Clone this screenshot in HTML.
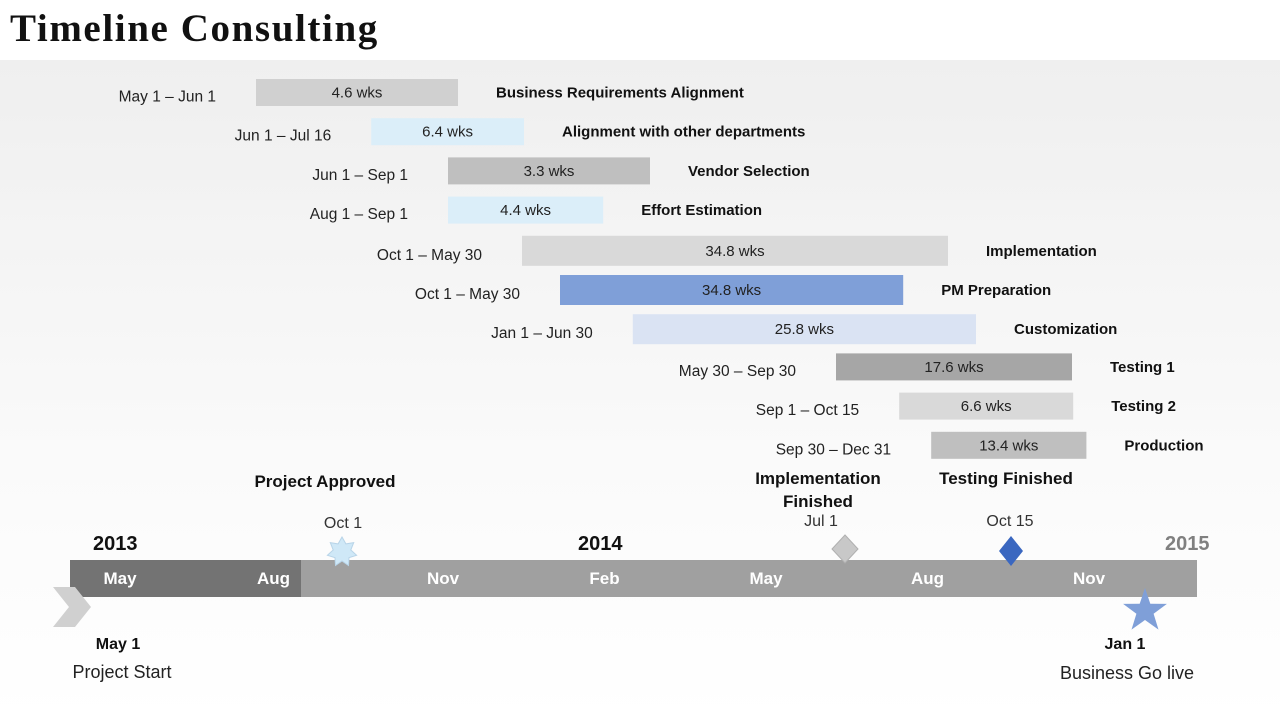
<!DOCTYPE html>
<html><head><meta charset="utf-8">
<style>
body{margin:0;width:1280px;height:720px;overflow:hidden;font-family:"Liberation Sans",sans-serif;background:#fff;position:relative}
#bg{position:absolute;left:0;top:60px;width:1280px;height:660px;background:linear-gradient(#efefef,#fafafa 60%,#fff)}
#title{position:absolute;left:10px;top:6px;font-family:"Liberation Serif",serif;font-weight:bold;font-size:39px;color:#111;letter-spacing:1.6px}
svg{position:absolute;left:0;top:0}
</style></head>
<body>
<div id="bg"></div>
<div id="title">Timeline Consulting</div>
<svg id="chart" width="1280" height="720"></svg>
<script>
const tasks=["Business Requirements Alignment","Alignment  with other departments","Vendor Selection","Effort Estimation","Implementation","PM Preparation","Customization","Testing 1","Testing 2","Production"];
const dateRanges=["May 1 – Jun 1","Jun 1 – Jul 16","Jun 1 – Sep 1","Aug 1 – Sep 1","Oct 1 – May 30","Oct 1 – May 30","Jan 1 – Jun 30","May 30 – Sep 30","Sep 1 – Oct 15","Sep 30 – Dec 31"];
const durLabels=["4.6 wks","6.4 wks","3.3 wks","4.4 wks","34.8 wks","34.8 wks","25.8 wks","17.6 wks","6.6 wks","13.4 wks"];
const starts=[0,14.4,24,24,33.25,38,47.1,72.5,80.4,84.4];
const lengths=[25.25,19.1,25.25,19.4,53.25,42.9,42.9,29.5,21.75,19.4];
const colors=["#d0d0d0","#dbeef9","#bfbfbf","#dbeef9","#d9d9d9","#7f9fd8","#dae3f3","#a6a6a6","#d9d9d9","#bfbfbf"];
const months=["May","Aug","Nov","Feb","May","Aug","Nov"];
const NS="http://www.w3.org/2000/svg";
const svg=document.getElementById('chart');
const xs=v=>256+v*8;
const ys=i=>79+i*39.2;
function mk(t,a,txt){const e=document.createElementNS(NS,t);for(const k in a)e.setAttribute(k,a[k]);if(txt!==undefined)e.textContent=txt;svg.appendChild(e);return e;}
tasks.forEach((t,i)=>{
  const x0=xs(starts[i]),x1=xs(starts[i]+lengths[i]),y=ys(i),h=(i>=4&&i<=6)?30:27;
  const r=mk('rect',{x:x0,y:y,width:x1-x0,height:h,fill:colors[i]});
  
  
  const d=mk('text',{x:(x0+x1)/2,y:y+h/2+5,'text-anchor':'middle','font-size':15,fill:'#222'},durLabels[i]);
  
  
  const dr=mk('text',{x:x0-40,y:y+h/2+9,'text-anchor':'end','font-size':15.5,fill:'#222'},dateRanges[i]);
  
  
  const tn=mk('text',{x:x1+38,y:y+h/2+5,'font-size':15,'font-weight':'bold',fill:'#111'},t);
  
  
});
let e=mk('rect',{x:70,y:560,width:1127,height:37,fill:'#a0a0a0'});


e=mk('rect',{x:70,y:560,width:231,height:37,fill:'#737373'});


const mx=m=>120+m*161.5;
months.forEach((m,i)=>{
  const t=mk('text',{x:mx(i)+(i==1?-8:0),y:584,'text-anchor':'middle','font-family':'"Liberation Sans Narrow",sans-serif','font-weight':'bold','font-size':17,fill:'#fff'},m);
  
  
});
function T(x,y,s,txt,opt,name){const t=mk('text',Object.assign({x:x,y:y,'font-size':s,fill:'#111'},opt||{}),txt);return t;}
T(93,550,20,"2013",{'font-weight':'bold'},'year-2013');
T(578,550,20,"2014",{'font-weight':'bold'},'year-2014');
T(1165,550,20,"2015",{'font-weight':'bold',fill:'#808080'},'year-2015');
T(325,487,17,"Project Approved",{'font-weight':'bold','text-anchor':'middle'},'milestone-title');
T(343,528,16,"Oct 1",{'text-anchor':'middle',fill:'#333'},'milestone-date');
T(818,484,17,"Implementation",{'font-weight':'bold','text-anchor':'middle'},'milestone-title');
T(818,507,17,"Finished",{'font-weight':'bold','text-anchor':'middle'},'milestone-title');
T(821,526,16,"Jul 1",{'text-anchor':'middle',fill:'#333'},'milestone-date');
T(1006,484,17,"Testing Finished",{'font-weight':'bold','text-anchor':'middle'},'milestone-title');
T(1010,526,16,"Oct 15",{'text-anchor':'middle',fill:'#333'},'milestone-date');
T(118,649,16,"May 1",{'font-weight':'bold','text-anchor':'middle'},'start-date');
T(122,678,18,"Project Start",{'text-anchor':'middle',fill:'#222'},'start-label');
T(1125,649,16,"Jan 1",{'font-weight':'bold','text-anchor':'middle'},'end-date');
T(1127,679,18,"Business Go live",{'text-anchor':'middle',fill:'#222'},'end-label');
e=mk('polygon',{points:'53,587 75,587 91,607 75,627 53,627 69,607',fill:'#d0d0d0'});


function star(cx,cy,ro,ri,n){let p=[];for(let k=0;k<2*n;k++){const r=k%2?ri:ro,a=-Math.PI/2+k*Math.PI/n;p.push((cx+r*Math.cos(a)).toFixed(1)+','+(cy+r*Math.sin(a)).toFixed(1));}return p.join(' ');}
e=mk('polygon',{points:star(342,552,15,9,7),fill:'#cfe8f7',stroke:'#b8d4e8'});


e=mk('polygon',{points:'845,535 858,549 845,563 832,549',fill:'#c8c8c8',stroke:'#b0b0b0'});


e=mk('polygon',{points:'1011,536 1023,551 1011,566 999,551',fill:'#3a67c0'});


e=mk('polygon',{points:star(1145,611,23,9,5),fill:'#7f9fd8'});


</script>
</body></html>
